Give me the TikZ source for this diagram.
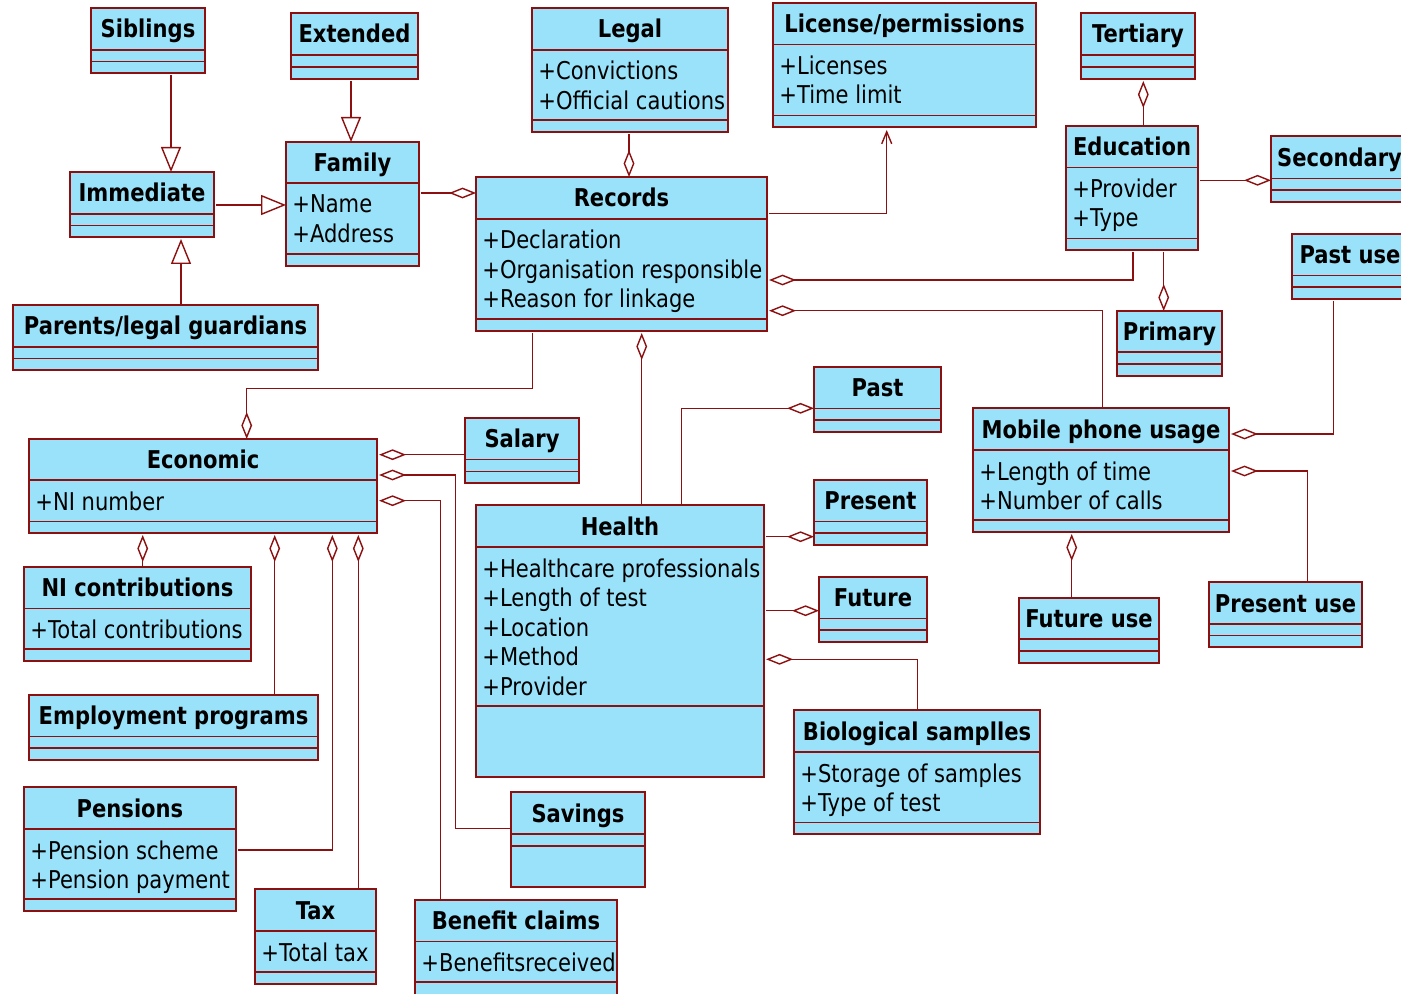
\documentclass[tikz,border=0pt]{standalone}
\usepackage{fontspec}
\setmainfont{DejaVu Sans}[FakeStretch=0.86]
\usetikzlibrary{arrows.meta,fit}

\definecolor{umlblue}{RGB}{153,226,250}
\definecolor{umlred}{RGB}{140,16,16}

\newcommand\umlsize{\fontsize{12.25pt}{14.75pt}\selectfont}

\tikzset{
  umlbox/.style={draw=umlred, fill=umlblue, line width=0.75pt, inner sep=0pt, outer sep=0pt, rectangle},
  umlsep/.style={draw=umlred, line width=0.75pt},
  ttl/.style={font={\umlsize\bfseries}, inner sep=0pt, anchor=base, text=black},
  att/.style={font=\umlsize, inner sep=0pt, anchor=base west, text=black},
  link/.style={draw=umlred, line width=0.7pt},
  agg/.style={link, -{Diamond[open, length=13.5pt, width=5.4pt]}},
  gen/.style={link, -{Triangle[open, length=12.5pt, width=10pt]}},
  dep/.style={link, -{Straight Barb[length=6pt, width=5pt]}},
  gapS/.style={shorten <=1.2pt},
  gapE/.style={shorten >=1pt},
}

% class box: name, x1, y1, x2, y2, first separator, second separator, title
\newcommand\umlclass[8]{%
  \node[umlbox, fit={(#2,#3)(#4,#5)}] (#1) {};
  \draw[umlsep] (#2,#6) -- (#4,#6) (#2,#7) -- (#4,#7);
  \node[ttl] at ({(#2+#4)/2},{(#3+#6)/2+9}) {#8};
}
% attribute line: left edge, first separator, line index, text
\newcommand\umlattr[4]{%
  \node[att] at ({#1+6},{#2+30+29.5*#3}) {#4};
}

\begin{document}
\begin{tikzpicture}[x=0.5pt, y=-0.5pt, font=\umlsize]
\useasboundingbox (0,0) rectangle (1401,994);
\fill[white] (0,0) rectangle (1401,994);
\clip (0,0) rectangle (1401,994);

% ---------- family group ----------
\umlclass{sib}{91}{8}{205}{73}{50}{61.5}{Siblings}
\umlclass{ext}{291}{13}{418}{79}{55}{67}{Extended}
\umlclass{fam}{286}{142}{419}{266}{183}{254}{Family}
\umlattr{286}{183}{0}{+Name}
\umlattr{286}{183}{1}{+Address}
\umlclass{imm}{70}{172}{214}{237}{214}{225.5}{Immediate}
\umlclass{par}{13}{305}{318}{370}{347}{358.5}{Parents/legal guardians}

% ---------- records and neighbours ----------
\umlclass{leg}{532}{8}{728}{132}{50}{120}{Legal}
\umlattr{532}{50}{0}{+Convictions}
\umlattr{532}{50}{1}{+Official cautions}
\umlclass{lic}{773}{3}{1036}{127}{44.5}{115.5}{License/permissions}
\umlattr{773}{44.5}{0}{+Licenses}
\umlattr{773}{44.5}{1}{+Time limit}
\umlclass{rec}{476}{177}{767}{331}{219}{319}{Records}
\umlattr{476}{219}{0}{+Declaration}
\umlattr{476}{219}{1}{+Organisation responsible}
\umlattr{476}{219}{2}{+Reason for linkage}

% ---------- education ----------
\umlclass{ter}{1081}{13}{1195}{79}{55}{67}{Tertiary}
\umlclass{edu}{1066}{126}{1198}{250}{167.5}{238.5}{Education}
\umlattr{1066}{167.5}{0}{+Provider}
\umlattr{1066}{167.5}{1}{+Type}
\umlclass{sec}{1271}{136}{1408}{202}{178.5}{190}{Secondary}
\umlclass{pri}{1117}{311}{1222}{376}{352}{364}{Primary}

% ---------- mobile phone usage ----------
\umlclass{pu}{1292}{234}{1408}{299}{275.5}{287}{Past use}
\umlclass{mob}{973}{408}{1229}{532}{450}{520}{Mobile phone usage}
\umlattr{973}{450}{0}{+Length of time}
\umlattr{973}{450}{1}{+Number of calls}
\umlclass{fuse}{1019}{598}{1159}{663}{639}{651}{Future use}
\umlclass{puse}{1209}{582}{1362}{647}{624}{635.5}{Present use}

% ---------- economic ----------
\umlclass{eco}{29}{439}{377}{533}{480}{521.5}{Economic}
\umlattr{29}{480}{0}{+NI number}
\umlclass{nic}{24}{567}{251}{661}{608.5}{649}{NI contributions}
\umlattr{24}{608.5}{0}{+Total contributions}
\umlclass{emp}{29}{695}{318}{760}{736.5}{748}{Employment programs}
\umlclass{sal}{465}{418}{579}{483}{459.5}{471.5}{Salary}
\umlclass{pen}{24}{787}{236}{911}{829}{899}{Pensions}
\umlattr{24}{829}{0}{+Pension scheme}
\umlattr{24}{829}{1}{+Pension payment}
\umlclass{tax}{255}{889}{376}{984}{931}{972}{Tax}
\umlattr{255}{931}{0}{+Total tax}
\umlclass{sav}{511}{792}{645}{887}{834}{846}{Savings}
\umlclass{ben}{415}{900}{617}{1000}{941.5}{982}{Benefit claims}
\umlattr{415}{941.5}{0}{+Benefitsreceived}

% ---------- health ----------
\umlclass{past}{814}{367}{941}{432}{408.5}{420}{Past}
\umlclass{pres}{814}{480}{927}{545}{521.5}{533}{Present}
\umlclass{fut}{819}{577}{927}{642}{618.5}{630}{Future}
\umlclass{hea}{476}{505}{764}{777}{547}{706}{Health}
\umlattr{476}{547}{0}{+Healthcare professionals}
\umlattr{476}{547}{1}{+Length of test}
\umlattr{476}{547}{2}{+Location}
\umlattr{476}{547}{3}{+Method}
\umlattr{476}{547}{4}{+Provider}
\umlclass{bio}{794}{710}{1040}{834}{752}{822.5}{Biological samplles}
\umlattr{794}{752}{0}{+Storage of samples}
\umlattr{794}{752}{1}{+Type of test}

% ---------- generalisations ----------
\draw[gen, gapS] (sib.south -| 171,0) -- (imm.north -| 171,0);
\draw[gen, gapS] (ext.south -| 351,0) -- (fam.north -| 351,0);
\draw[gen, gapE] (par.north -| 181,0) -- (imm.south -| 181,0);
\draw[gen, gapS] (imm.east |- 0,205) -- (fam.west |- 0,205);

% ---------- dependency ----------
\draw[dep, gapS, shorten >=1.5pt] (rec.east |- 0,213.3) -| (lic.south -| 886.7,0);

% ---------- aggregations ----------
\draw[agg, gapS] (fam.east |- 0,193) -- (rec.west |- 0,193);
\draw[agg, gapS] (leg.south -| 629,0) -- (rec.north -| 629,0);
\draw[agg, gapS, gapE] (edu.south -| 1133,0) |- (rec.east |- 0,280);
\draw[agg, gapE] (mob.north -| 1102.3,0) |- (rec.east |- 0,310.7);
\draw[agg, gapE] (edu.north -| 1143.3,0) -- (ter.south -| 1143.3,0);
\draw[agg, gapS] (edu.east |- 0,180.3) -- (sec.west |- 0,180.3);
\draw[agg, gapS] (edu.south -| 1163.7,0) -- (pri.north -| 1163.7,0);
\draw[agg, gapS, gapE] (pu.south -| 1333.3,0) |- (mob.east |- 0,434);
\draw[agg, gapE] (puse.north -| 1307.7,0) |- (mob.east |- 0,471);
\draw[agg, gapE] (fuse.north -| 1071.7,0) -- (mob.south -| 1071.7,0);
\draw[agg, gapS] (rec.south -| 532.7,0) -- (532.7,388.3) -| (eco.north -| 246.7,0);
\draw[agg, gapE] (hea.north -| 641.7,0) -- (rec.south -| 641.7,0);
\draw[agg, gapE] (sal.west |- 0,454.7) -- (eco.east |- 0,454.7);
\draw[agg, gapE] (sav.west |- 0,828.7) -| (455.7,475) -- (eco.east |- 0,475);
\draw[agg, gapE] (ben.north -| 440.3,0) |- (eco.east |- 0,500.7);
\draw[agg, gapE] (nic.north -| 142.7,0) -- (eco.south -| 142.7,0);
\draw[agg, gapE] (emp.north -| 274.7,0) -- (eco.south -| 274.7,0);
\draw[agg, gapS, gapE] (pen.east |- 0,850) -| (eco.south -| 332.3,0);
\draw[agg, gapE] (tax.north -| 358.3,0) -- (eco.south -| 358.3,0);
\draw[agg] (hea.north -| 681.3,0) |- (past.west |- 0,408.3);
\draw[agg, gapS] (hea.east |- 0,536.7) -- (pres.west |- 0,536.7);
\draw[agg, gapS] (hea.east |- 0,610.7) -- (fut.west |- 0,610.7);
\draw[agg, gapE] (bio.north -| 917.3,0) |- (hea.east |- 0,659.3);
\end{tikzpicture}
\end{document}
